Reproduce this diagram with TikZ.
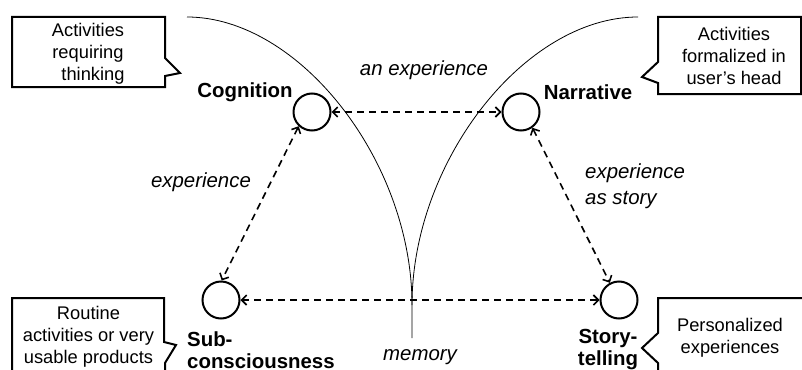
\documentclass[tikz,border=0pt]{standalone}
\usepackage{fontspec}
\setmainfont{Liberation Sans}
\usetikzlibrary{arrows.meta}

\begin{document}
\begin{tikzpicture}[x=1pt,y=-1pt,
  state/.style={circle, draw, line width=2pt, minimum size=37pt, inner sep=0pt},
  link/.style={line width=1.6pt, dash pattern=on 7pt off 5pt,
    {Straight Barb[length=5pt,width=10pt]}-{Straight Barb[length=5pt,width=10pt]}},
  memline/.style={line width=0.8pt},
  callout/.style={line width=2pt, line join=miter},
  calltext/.style={font=\fontsize{18.3}{22}\selectfont, align=center, inner sep=0pt},
  statename/.style={font=\fontsize{20.4}{22}\selectfont\bfseries, inner sep=0pt},
  linkname/.style={font=\fontsize{20.4}{26}\selectfont\itshape, inner sep=0pt},
  ]
\useasboundingbox (0,0) rectangle (802,369);

% memory boundaries
\draw[memline] (187,17) .. controls (299,17) and (412,161) .. (412,305) -- (412,338);
\draw[memline] (638,17) .. controls (525,17) and (412,161) .. (412,305);

% states
\node[state] (cog) at (312,112) {};
\node[state] (nar) at (521,112) {};
\node[state] (sub) at (221,300) {};
\node[state] (sto) at (619,300) {};

\node[statename] (cogname) at (245,92) {Cognition};
\node[statename] (narname) at (588,92) {Narrative};
\node[statename, align=left, anchor=west] (subname) at (187,350) {Sub-\\consciousness};
\node[statename, align=center] (stoname) at (608,350) {Story-\\telling};

% transitions
\draw[link] (cog) -- (nar);
\draw[link] (cog.227) -- (sub.88);
\draw[link] (nar.306) -- (sto.118);
\draw[link] (sub) -- (sto);

\node[linkname] (l1) at (424,70) {an experience};
\node[linkname] (l2) at (201,182) {experience};
\node[linkname, align=left, anchor=west] (l3) at (585,186) {experience\\as story};
\node[linkname] (l4) at (420,357) {memory};

% callouts
\draw[callout] (12,17) -- (165,17) -- (165,58) -- (180,73) -- (165,76) -- (165,87) -- (12,87) -- cycle;
\node[calltext] (c1) at (88,54) {Activities\\requiring\\\hspace*{10pt}thinking};

\draw[callout] (658,17) -- (801,17) -- (801,94) -- (658,94) -- (658,83) -- (642,77) -- (658,62) -- cycle;
\node[calltext] (c2) at (734,56) {Activities\\formalized in\\user’s head};

\draw[callout] (12,375) -- (12,298) -- (164,298) -- (164,342) -- (176,345) -- (165,363) -- (165,375);
\node[calltext] (c3) at (88.5,337) {Routine\\activities or very\\usable products};

\draw[callout] (810,298) -- (658,298) -- (658,333) -- (642,348) -- (658,363) -- (658,375);
\node[calltext] (c4) at (730,338) {Personalized\\experiences};
\end{tikzpicture}
\end{document}
